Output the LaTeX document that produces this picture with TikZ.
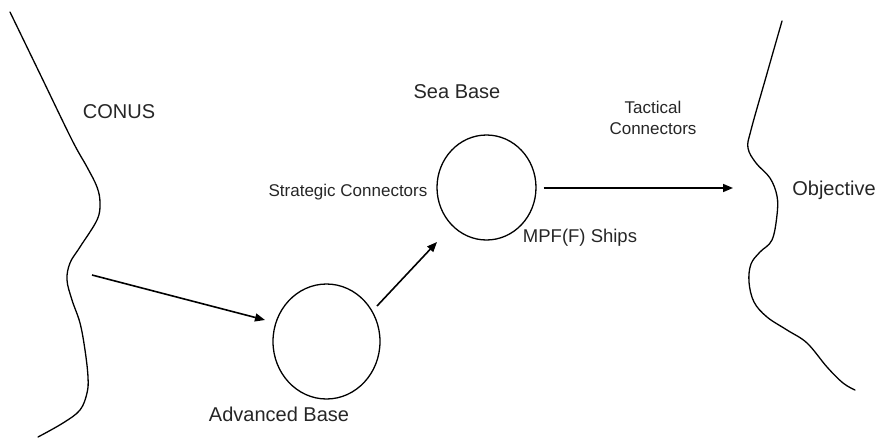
\documentclass[tikz,border=0pt]{standalone}
\usepackage{fontspec}
\setmainfont{Liberation Sans}
\usetikzlibrary{arrows.meta,shapes.geometric,calc}
\begin{document}
\begin{tikzpicture}[x=1pt,y=-1pt,
  coast/.style={line width=1.3pt, line join=round, line cap=round},
  base/.style={draw, ellipse, line width=1.3pt, inner sep=0pt},
  conn/.style={line width=1.6pt, -{Triangle[length=10pt,width=8pt]}},
  big/.style={font=\fontsize{20}{22}\selectfont, text=black!85},
  small/.style={font=\fontsize{17}{21}\selectfont, text=black!85, align=center}]
\useasboundingbox (0,0) rectangle (879,440);
% left coastline
\draw[coast] plot[smooth, tension=0.6] coordinates {(10,12) (41,76) (72,140) (87,167) (97,187) (100,203) (97,220) (80,247) (70,263) (67,280) (72,300) (80,323) (85,350) (88,377) (87,393) (80,410) (63,423) (38,437)};
% right coastline
\draw[coast] plot[smooth, tension=0.6] coordinates {(782,21) (766,77) (751,130) (748,148) (756,163) (770,178) (777,196) (777,215) (772,240) (760,252) (751,264) (749,282) (754,302) (767,317) (787,330) (807,343) (827,367) (843,383) (855,390)};
% bases
\node[base, minimum width=107pt, minimum height=115pt] (adv) at (326.5,341.5) {};
\node[base, minimum width=99pt, minimum height=105pt] (sea) at (486.5,187.5) {};
% labels
\node[big] (conus) at (119,112) {CONUS};
\node[big] (advl) at (279,414) {Advanced Base};
\node[big] (seal) at (457,92) {Sea Base};
\node[small] (strat) at (348,192) {Strategic Connectors};
\node[small, font=\fontsize{18.5}{21}\selectfont] (mpf) at (580,238) {MPF(F) Ships};
\node[small] (tact) at (653,118) {Tactical\\Connectors};
\node[big] (obj) at (834,190) {Objective};
% connectors
\coordinate (a1s) at (92,275);
\coordinate (a3e) at (733,188);
\draw[conn] (a1s) -- ($(adv.center)+(-61.5,-21.5)$);
\draw[conn] ($(adv.center)+(50.5,-35.5)$) -- ($(sea.center)+(-49.5,54.5)$);
\draw[conn] ($(sea.east)+(7,0.5)$) -- (a3e);
\end{tikzpicture}
\end{document}
